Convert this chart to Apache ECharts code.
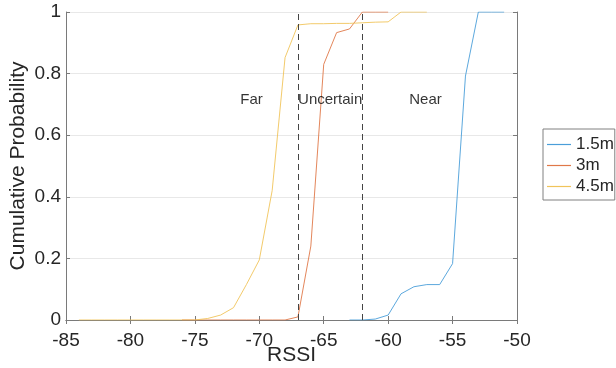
<!DOCTYPE html>
<html>
<head>
<meta charset="utf-8">
<script src="https://cdn.jsdelivr.net/npm/echarts@6/dist/echarts.min.js"></script>
<style>
  html, body { margin: 0; padding: 0; background: #fff; }
  #chart { width: 616px; height: 368px; }
</style>
</head>
<body>
<div id="chart"></div>
<script>
// RSSI values (x) and cumulative probability (y) for each distance
const rssi15 = [-63, -62, -61, -60, -59, -58, -57, -56, -55, -54, -53, -52, -51];
const cdf15 = [0, 0, 0.003, 0.016, 0.085, 0.108, 0.115, 0.115, 0.183, 0.792, 1, 1, 1];

const rssi3 = [-76, -75, -74, -73, -72, -71, -70, -69, -68, -67, -66, -65, -64, -63, -62, -61, -60];
const cdf3 = [0, 0, 0, 0, 0, 0, 0, 0, 0, 0.01, 0.24, 0.83, 0.933, 0.945, 1, 1, 1];

const rssi45 = [-84, -83, -82, -81, -80, -79, -78, -77, -76, -75, -74, -73, -72, -71, -70, -69, -68,
  -67, -66, -65, -64, -63, -62, -61, -60, -59, -58, -57];
const cdf45 = [0, 0, 0, 0, 0, 0, 0, 0, 0, 0, 0.005, 0.016, 0.04, 0.115, 0.195, 0.42, 0.852,
  0.958, 0.962, 0.962, 0.963, 0.963, 0.965, 0.967, 0.968, 1, 1, 1];

const seriesNames = ['1.5m', '3m', '4.5m'];
const thresholds = [-67, -62];
const regionLabels = [
  { name: 'Far', x: -70.6, y: 0.715 },
  { name: 'Uncertain', x: -64.5, y: 0.715 },
  { name: 'Near', x: -57.1, y: 0.715 }
];

const zip = (xs, ys) => xs.map((x, i) => [x, ys[i]]);
const font = 'Liberation Sans, Arial, Helvetica, sans-serif';
const axisGray = '#7a7a7a';

const chart = echarts.init(document.getElementById('chart'));

const lineSeries = (name, data, color) => ({
  name,
  type: 'line',
  data,
  symbol: 'none',
  lineStyle: { width: 0.9, color },
  itemStyle: { color },
  z: 3
});

const option = {
  animation: false,
  textStyle: { fontFamily: font },
  grid: { left: 66, right: 99, top: 12, bottom: 48, outerBoundsMode: 'none' },
  legend: {
    data: seriesNames,
    orient: 'vertical',
    left: 543,
    top: 129,
    icon: 'rect',
    itemWidth: 24,
    itemHeight: 1.2,
    itemGap: 4,
    padding: [7, 1, 5, 4],
    borderColor: '#808080',
    borderWidth: 1,
    textStyle: { fontSize: 17, color: '#262626', fontFamily: font }
  },
  xAxis: [
    {
      type: 'value',
      min: -85,
      max: -50,
      interval: 5,
      name: 'RSSI',
      nameLocation: 'middle',
      nameGap: 25,
      nameMoveOverlap: false,
      nameTextStyle: { fontSize: 21, color: '#262626' },
      axisLine: { onZero: false, lineStyle: { color: axisGray } },
      axisTick: { inside: true, length: 4, lineStyle: { color: axisGray } },
      axisLabel: { fontSize: 19, color: '#262626', margin: 11 },
      splitLine: { show: false }
    },
    {
      type: 'value',
      position: 'top',
      min: -85,
      max: -50,
      interval: 5,
      axisLine: { show: true, lineStyle: { color: axisGray } },
      axisTick: { show: true, inside: true, length: 4, lineStyle: { color: axisGray } },
      axisLabel: { show: false },
      splitLine: { show: false }
    }
  ],
  yAxis: [
    {
      type: 'value',
      min: 0,
      max: 1,
      interval: 0.2,
      name: 'Cumulative Probability',
      nameLocation: 'middle',
      nameGap: 37,
      nameMoveOverlap: false,
      nameTextStyle: { fontSize: 21, color: '#262626' },
      axisLine: { show: true, onZero: false, lineStyle: { color: axisGray } },
      axisTick: { show: true, inside: true, length: 4, lineStyle: { color: axisGray } },
      axisLabel: { fontSize: 19, color: '#262626', margin: 5 },
      splitLine: { show: true, lineStyle: { color: '#e8e8e8', width: 1 } }
    },
    {
      type: 'value',
      position: 'right',
      min: 0,
      max: 1,
      interval: 0.2,
      axisLine: { show: true, lineStyle: { color: axisGray } },
      axisTick: { show: true, inside: true, length: 4, lineStyle: { color: axisGray } },
      axisLabel: { show: false },
      splitLine: { show: false }
    }
  ],
  series: [
    lineSeries(seriesNames[0], zip(rssi15, cdf15), '#4a9ed9'),
    lineSeries(seriesNames[1], zip(rssi3, cdf3), '#e07848'),
    Object.assign(lineSeries(seriesNames[2], zip(rssi45, cdf45), '#f0c45a'), {
      markLine: {
        silent: true,
        symbol: 'none',
        label: { show: false },
        lineStyle: { color: '#444', type: [6, 4], width: 1 },
        data: thresholds.map(x => ({ xAxis: x }))
      }
    }),
    {
      type: 'scatter',
      symbolSize: 0,
      silent: true,
      data: regionLabels.map(d => [d.x, d.y, d.name]),
      label: {
        show: true,
        position: 'inside',
        formatter: p => p.value[2],
        fontSize: 15,
        color: '#000',
        fontFamily: font
      },
      z: 5
    }
  ]
};

chart.setOption(option);
</script>
</body>
</html>
